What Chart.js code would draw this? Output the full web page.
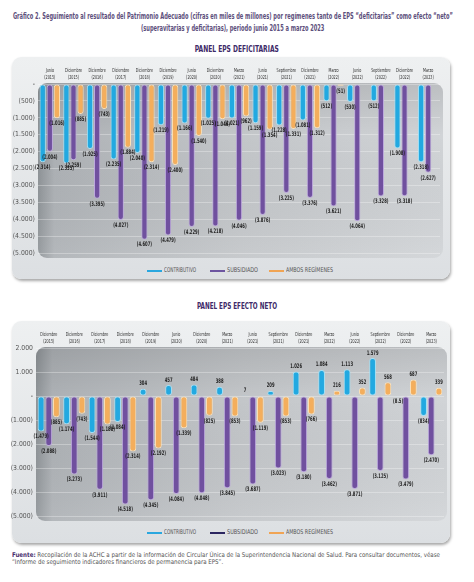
<!DOCTYPE html>
<html>
<head>
<meta charset="utf-8">
<script src="https://cdn.jsdelivr.net/npm/chart.js@4"></script>
<style>
body{margin:0;width:474px;height:582px;background:#fff;position:relative;overflow:hidden;font-family:"DejaVu Sans Condensed","DejaVu Sans",sans-serif}
.abs{position:absolute}
.line{display:inline-block;white-space:nowrap}
#title{top:11px;left:-267px;width:1000px;text-align:center;font-size:8px;line-height:12px;color:#5d4f7c;font-weight:bold}
.ptitle{left:0;width:474px;text-align:center;font-size:8.5px;font-weight:bold;color:#3e2a68}
.box{left:12px;width:438px;height:222px;border-radius:9px;background:linear-gradient(180deg,#eef0f1,#dcdfe2);box-shadow:1px 2px 3px rgba(0,0,0,.35)}
.leg{position:absolute;font-size:6.5px;color:#555;white-space:nowrap;line-height:8px}
.leg i{position:absolute;top:4px;left:0;width:15px;height:2px}
.leg span{position:absolute;left:17px;top:0;transform-origin:0 50%}
canvas{position:absolute;left:0}
#foot{top:552px;left:12px;width:1000px;font-size:6.5px;line-height:6.5px;color:#555}
#foot .line{transform-origin:0 50%}
#foot b{color:#4a2f6e}
</style>
</head>
<body>
<div id="title" class="abs"><span class="line" id="t1">Gráfico 2. Seguimiento al resultado del Patrimonio Adecuado (cifras en miles de millones) por regímenes tanto de EPS “deficitarias” como efecto “neto”</span><br><span class="line" id="t2">(superavitarias y deficitarias), periodo junio 2015 a marzo 2023</span></div>

<div class="abs ptitle" style="top:44px"><span class="line fit" data-w="84">PANEL EPS DEFICITARIAS</span></div>
<div class="abs box" style="top:57px"></div>
<canvas id="chart1" width="450" height="206" style="top:57px;width:450px;height:206px"></canvas>
<div id="leg1"></div>

<div class="abs ptitle" style="top:301px"><span class="line fit" data-w="80">PANEL EPS EFECTO NETO</span></div>
<div class="abs box" style="top:321px"></div>
<canvas id="chart2" width="450" height="205" style="top:321px;width:450px;height:205px"></canvas>
<div id="leg2"></div>

<div id="foot" class="abs"><span class="line" id="f1"><b>Fuente:</b> Recopilación de la ACHC a partir de la información de Circular Única de la Superintendencia Nacional de Salud. Para consultar documentos, véase</span><br><span class="line" id="f2">“Informe de seguimiento indicadores financieros de permanencia para EPS”.</span></div>

<script>
// Panel EPS deficitarias
const defMonths = ['Junio', 'Diciembre', 'Diciembre', 'Diciembre', 'Diciembre', 'Diciembre', 'Junio', 'Diciembre', 'Marzo', 'Junio', 'Septiembre', 'Diciembre', 'Marzo', 'Junio', 'Septiembre', 'Diciembre', 'Marzo'];
const defYears = ['2015', '2015', '2016', '2017', '2018', '2019', '2020', '2020', '2021', '2021', '2021', '2021', '2022', '2022', '2022', '2022', '2023'];
const defContributivo = [-2314, -2355, -1925, -2235, -2040, -1219, -1166, -1025, -1021, -1159, -1228, -1081, -512, -530, -512, -1908, -2318];
const defSubsidiado = [-2004, -2259, -3395, -4027, -4607, -4479, -4229, -4218, -4046, -3876, -3225, -3376, -3621, -4064, -3328, -3318, -2627];
const defAmbos = [-1016, -885, -743, -1884, -2314, -2400, -1540, -1046, -962, -1354, -1331, -1312, -51, null, null, null, null];

// Panel EPS efecto neto
const netMonths = ['Diciembre', 'Diciembre', 'Diciembre', 'Diciembre', 'Diciembre', 'Junio', 'Diciembre', 'Marzo', 'Junio', 'Septiembre', 'Diciembre', 'Marzo', 'Junio', 'Septiembre', 'Diciembre', 'Marzo'];
const netYears = ['2015', '2016', '2017', '2018', '2019', '2020', '2020', '2021', '2021', '2021', '2021', '2022', '2022', '2022', '2022', '2023'];
const netContributivo = [-1479, -1174, -1544, -1084, 304, 457, 484, 388, 7, 209, 1026, 1084, 1113, 1579, -8.5, -834];
const netSubsidiado = [-2088, -3273, -3911, -4518, -4345, -4084, -4048, -3845, -3687, -3023, -3180, -3462, -3871, -3125, -3479, -2470];
const netAmbos = [-885, -743, -1188, -2314, -2192, -1339, -825, -853, -1119, -853, -766, 216, 352, 568, 687, 339];

const FONT = '"DejaVu Sans Condensed", "DejaVu Sans", sans-serif';
Chart.defaults.font.family = FONT;
Chart.defaults.animation = false;

// squeeze a text line horizontally to the width it has in the picture
function fit(el, target) {
    const k = target / el.getBoundingClientRect().width;
    el.style.transform = 'scaleX(' + k + ')';
    return k;
}
const kt = fit(document.getElementById('t1'), 440);
document.getElementById('t2').style.transform = 'scaleX(' + kt + ')';
const kf = fit(document.getElementById('f1'), 428);
document.getElementById('f2').style.transform = 'scaleX(' + kf + ')';
document.querySelectorAll('.fit').forEach(el => fit(el, +el.dataset.w));

function legend(id, top, subColor) {
    const items = [
        ['CONTRIBUTIVO', '#2aa7df', 147, 32],
        ['SUBSIDIADO', subColor, 210, 31],
        ['AMBOS REGÍMENES', '#f0a454', 269, 47]
    ];
    const host = document.getElementById(id);
    items.forEach(([text, color, left, w]) => {
        const d = document.createElement('div');
        d.className = 'leg';
        d.style.left = left + 'px';
        d.style.top = top + 'px';
        d.innerHTML = '<i style="background:' + color + '"></i><span>' + text + '</span>';
        host.appendChild(d);
        fit(d.querySelector('span'), w);
    });
}
legend('leg1', 266, '#6d55a0');
legend('leg2', 528, '#2b2660');

function fmt(v) {
    const a = Math.abs(v);
    if (!Number.isInteger(a)) return String(a);
    return a.toString().replace(/\B(?=(\d{3})+(?!\d))/g, '.');
}

function tickText(v) {
    if (v === 0) return '-';
    return v < 0 ? '(' + fmt(v) + ')' : fmt(v);
}

function squeezedText(ctx, text, x, y, k) {
    ctx.save();
    ctx.translate(x, y);
    ctx.scale(k, 1);
    ctx.fillText(text, 0, 0);
    ctx.restore();
}

// dark rounded plot background
const plotBackground = {
    id: 'plotBackground',
    beforeDraw(chart) {
        const { ctx, chartArea: a } = chart;
        const x = a.left, y = a.top - 1, w = a.right - a.left + 3, h = a.bottom - a.top + 6;
        ctx.save();
        ctx.beginPath();
        ctx.roundRect(x, y, w, h, 9);
        const g = ctx.createLinearGradient(x, 0, x + w, 0);
        g.addColorStop(0, '#8f9498');
        g.addColorStop(0.04, '#aeb2b6');
        g.addColorStop(0.5, '#c3c6c9');
        g.addColorStop(1, '#d1d4d7');
        ctx.fillStyle = g;
        ctx.fill();
        const v = ctx.createLinearGradient(0, y, 0, y + h);
        v.addColorStop(0, 'rgba(0,0,0,0.10)');
        v.addColorStop(0.3, 'rgba(0,0,0,0)');
        v.addColorStop(1, 'rgba(255,255,255,0.08)');
        ctx.fillStyle = v;
        ctx.fill();
        ctx.restore();
    }
};

// two-line period labels above the plot
const periodLabels = {
    id: 'periodLabels',
    afterDraw(chart) {
        const { ctx, chartArea: a } = chart;
        const xs = chart.scales.x;
        ctx.save();
        ctx.font = '5.5px ' + FONT;
        ctx.fillStyle = '#2a2a2a';
        ctx.textAlign = 'center';
        ctx.textBaseline = 'alphabetic';
        chart.data.labels.forEach((lab, i) => {
            const x = xs.getPixelForValue(i);
            squeezedText(ctx, lab[0], x, a.top - 12, 0.68);
            squeezedText(ctx, lab[1], x, a.top - 5.5, 0.68);
        });
        ctx.restore();
    }
};

// value labels at the end of each bar
const valueLabels = {
    id: 'valueLabels',
    afterDatasetsDraw(chart) {
        const ctx = chart.ctx;
        ctx.save();
        ctx.font = 'bold 6.3px ' + FONT;
        ctx.fillStyle = '#1e1e1e';
        ctx.textAlign = 'center';
        chart.data.datasets.forEach((ds, i) => {
            chart.getDatasetMeta(i).data.forEach((bar, j) => {
                const v = ds.data[j];
                if (v === null) return;
                if (v < 0) {
                    ctx.textBaseline = 'top';
                    squeezedText(ctx, '(' + fmt(v) + ')', bar.x, bar.y + 2, 0.66);
                } else {
                    ctx.textBaseline = 'bottom';
                    squeezedText(ctx, fmt(v), bar.x, bar.y - 2, 0.66);
                }
            });
        });
        ctx.restore();
    }
};

function series(label, data, fill, edge) {
    return {
        label: label,
        data: data,
        backgroundColor: fill,
        borderColor: edge,
        borderWidth: 1,
        borderRadius: 3,
        borderSkipped: false,
        barPercentage: 0.88,
        categoryPercentage: 0.9
    };
}

function makeChart(id, months, years, c, s, a, yMin, yMax, step, axisWidth, rightPad) {
    return new Chart(document.getElementById(id), {
        type: 'bar',
        data: {
            labels: months.map((m, i) => [m, '(' + years[i] + ')']),
            datasets: [
                series('CONTRIBUTIVO', c, '#22a9e1', '#9fe0f7'),
                series('SUBSIDIADO', s, '#70509f', '#bca9dc'),
                series('AMBOS REGÍMENES', a, '#f4ae5c', '#fde0b5')
            ]
        },
        options: {
            responsive: false,
            layout: { padding: { left: 0, right: rightPad, top: 0, bottom: 10 } },
            plugins: { legend: { display: false }, tooltip: { enabled: false } },
            scales: {
                x: {
                    position: 'top',
                    grid: { display: false },
                    border: { display: false },
                    ticks: { display: false },
                    afterFit: sc => { sc.height = 27; }
                },
                y: {
                    min: yMin,
                    max: yMax,
                    grid: { color: 'rgba(255,255,255,0.3)', drawTicks: false },
                    border: { display: false },
                    ticks: { stepSize: step, color: '#555', font: { size: 6.8 }, padding: 3, callback: tickText },
                    afterFit: sc => { sc.width = axisWidth; }
                }
            }
        },
        plugins: [plotBackground, periodLabels, valueLabels]
    });
}

makeChart('chart1', defMonths, defYears, defContributivo, defSubsidiado, defAmbos, -5000, 0, 500, 38, 10);
makeChart('chart2', netMonths, netYears, netContributivo, netSubsidiado, netAmbos, -5000, 2000, 1000, 36, 6);
</script>
</body>
</html>
